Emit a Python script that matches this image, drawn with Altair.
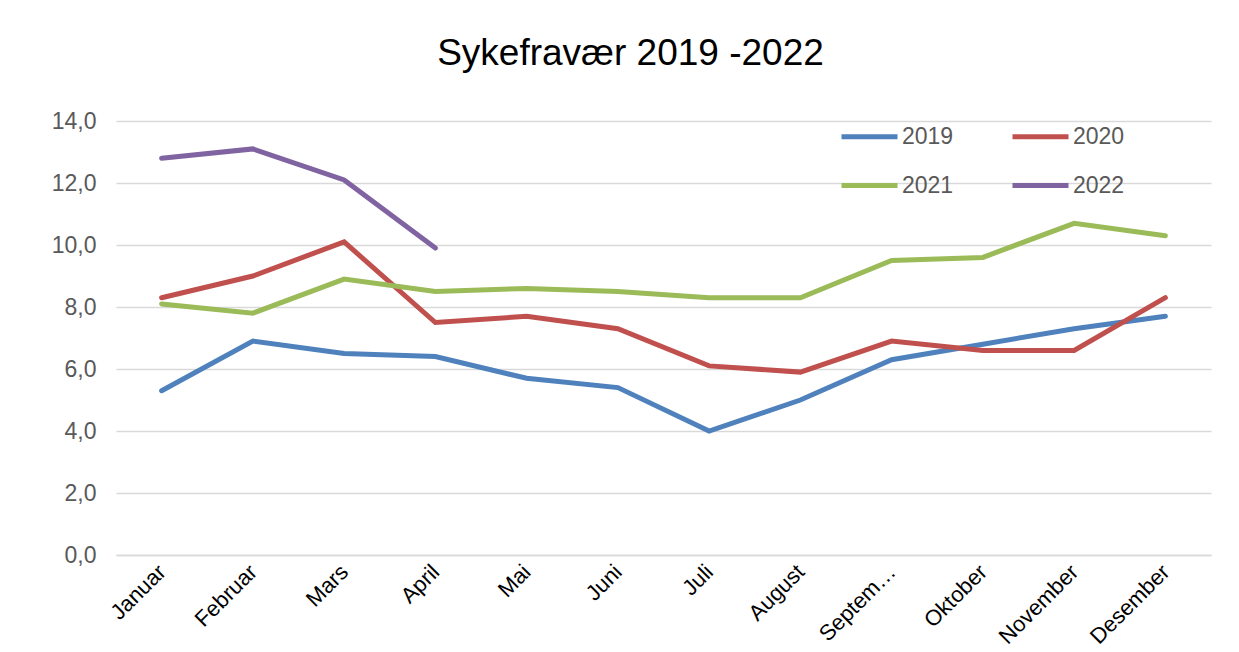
import altair as alt
import pandas as pd

months = ["Januar", "Februar", "Mars", "April", "Mai", "Juni", "Juli",
          "August", "September", "Oktober", "November", "Desember"]
s2019 = [5.3, 6.9, 6.5, 6.4, 5.7, 5.4, 4.0, 5.0, 6.3, 6.8, 7.3, 7.7]
s2020 = [8.3, 9.0, 10.1, 7.5, 7.7, 7.3, 6.1, 5.9, 6.9, 6.6, 6.6, 8.3]
s2021 = [8.1, 7.8, 8.9, 8.5, 8.6, 8.5, 8.3, 8.3, 9.5, 9.6, 10.7, 10.3]
s2022 = [12.8, 13.1, 12.1, 9.9]
years = ["2019", "2020", "2021", "2022"]
colors = ["#4F81BD", "#C0504D", "#9BBB59", "#8064A2"]

rows = []
for yr, vals in zip(years, [s2019, s2020, s2021, s2022]):
    for m, v in zip(months, vals):
        rows.append({"Måned": m, "År": yr, "Verdi": v})
df = pd.DataFrame(rows)

FONT = "Liberation Sans"

chart = alt.Chart(df).mark_line(strokeWidth=5, strokeCap="round").encode(
    x=alt.X("Måned:N", sort=months, title=None,
            scale=alt.Scale(type="point", padding=0.5),
            axis=alt.Axis(labelAngle=-45, labelAlign="right", labelBaseline="middle",
                          labelPadding=13, labelFontSize=22, labelColor="#000000",
                          labelFont=FONT, ticks=False, domainColor="#d9d9d9",
                          domainWidth=1.3, labelLimit=200,
                          labelExpr="datum.label == 'September' ? 'Septem…' : datum.label")),
    y=alt.Y("Verdi:Q", title=None,
            scale=alt.Scale(domain=[0, 14]),
            axis=alt.Axis(values=[0, 2, 4, 6, 8, 10, 12, 14],
                          labelExpr="replace(format(datum.value, '.1f'), '.', ',')",
                          labelFontSize=23, labelColor="#595959", labelFont=FONT,
                          labelPadding=20, ticks=False, domain=False,
                          gridColor="#d9d9d9", gridWidth=1.3)),
    color=alt.Color("År:N", scale=alt.Scale(domain=years, range=colors),
                    legend=alt.Legend(title=None, orient="none", legendX=723, legendY=-15,
                                      columns=2, direction="horizontal",
                                      symbolType="stroke", symbolSize=3136,
                                      symbolStrokeWidth=5, labelFontSize=23,
                                      labelFont=FONT, labelColor="#595959",
                                      labelOffset=2, rowPadding=6, columnPadding=48,
                                      padding=0)),
).properties(
    width=1095, height=434,
    title=alt.TitleParams("Sykefravær 2019 -2022", fontSize=37, font=FONT,
                          fontWeight="normal", color="#000000", anchor="middle",
                          dx=-33, offset=33),
    padding={"left": 108, "top": 113, "right": 20, "bottom": 97},
    autosize=alt.AutoSizeParams(type="none"),
).configure_view(stroke=None)

chart.save("out.html", embed_options={"renderer": "svg", "actions": False})
